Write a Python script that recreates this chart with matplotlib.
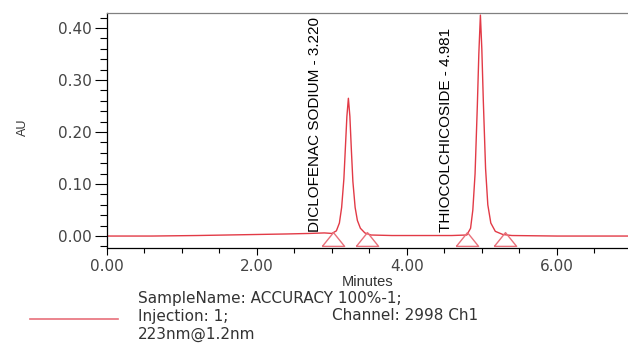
import matplotlib
matplotlib.use("Agg")
import matplotlib.pyplot as plt
from matplotlib.ticker import MultipleLocator, FormatStrFormatter

# ---------------------------------------------------------------------------
# Chromatogram trace (minutes, AU)
# ---------------------------------------------------------------------------
times = [0.00, 0.60, 1.20, 1.60, 2.00, 2.40, 2.70, 2.90, 3.00,
         3.06, 3.10, 3.13, 3.16, 3.18, 3.20, 3.22, 3.24, 3.26, 3.28,
         3.31, 3.34, 3.38, 3.44, 3.52, 3.80, 4.20, 4.60, 4.80,
         4.85, 4.88, 4.91, 4.94, 4.96, 4.981, 5.00, 5.02, 5.05, 5.08,
         5.12, 5.18, 5.28, 5.40, 6.00, 6.95]
au = [0.000, 0.000, 0.001, 0.002, 0.003, 0.004, 0.005, 0.006, 0.005,
      0.010, 0.025, 0.055, 0.110, 0.170, 0.230, 0.265, 0.230, 0.165, 0.105,
      0.055, 0.030, 0.015, 0.006, 0.002, 0.001, 0.001, 0.001, 0.002,
      0.015, 0.050, 0.120, 0.250, 0.350, 0.425, 0.360, 0.260, 0.130, 0.060,
      0.025, 0.009, 0.003, 0.001, 0.000, 0.000]

# integration markers (start / end of each peak)
marker_times = [3.01, 3.47, 4.80, 5.31]

peak_names = ["DICLOFENAC SODIUM - 3.220", "THIOCOLCHICOSIDE - 4.981"]
peak_label_x = [2.77, 4.52]

x_ticks = [0.0, 2.0, 4.0, 6.0]
y_ticks = [0.00, 0.10, 0.20, 0.30, 0.40]

TRACE = "#e23a46"
PINK = "#e8707a"
ARIAL = ["Liberation Sans", "DejaVu Sans"]

fig = plt.figure(figsize=(6.28, 3.45), dpi=100)
ax = fig.add_axes([107 / 628, (345 - 248) / 345, 1 - 107 / 628, (248 - 13) / 345])

ax.plot(times, au, color=TRACE, lw=1.0)
flat_tri = [(-1.0, -0.62), (1.0, -0.62), (0.0, 0.62), (-1.0, -0.62)]
ax.plot(marker_times, [-0.005] * len(marker_times), linestyle="none", marker=flat_tri,
        markersize=16, markerfacecolor="none", markeredgecolor=PINK, markeredgewidth=1.0)

for name, lx in zip(peak_names, peak_label_x):
    ax.text(lx, 0.007, name, rotation=90, ha="center", va="bottom",
            fontsize=11, family=ARIAL, color="black")

ax.set_xlim(0, 6.95)
ax.set_ylim(-0.023, 0.429)
ax.set_xticks(x_ticks)
ax.set_yticks(y_ticks)
ax.xaxis.set_minor_locator(MultipleLocator(0.5))
ax.yaxis.set_minor_locator(MultipleLocator(0.02))
ax.xaxis.set_major_formatter(FormatStrFormatter("%.2f"))
ax.yaxis.set_major_formatter(FormatStrFormatter("%.2f"))

ax.tick_params(axis="y", which="major", direction="out", length=9, width=0.8,
               pad=2, labelsize=11, labelcolor="#444444")
ax.tick_params(axis="y", which="minor", direction="out", length=5, width=0.8)
ax.tick_params(axis="x", which="major", direction="out", length=5, width=0.8,
               pad=3, labelsize=11, labelcolor="#444444")
ax.tick_params(axis="x", which="minor", direction="out", length=3.5, width=0.8)

ax.spines["right"].set_visible(False)
ax.spines["top"].set_color("#808080")
ax.spines["left"].set_color("black")
ax.spines["bottom"].set_color("black")
for s in ax.spines.values():
    s.set_linewidth(0.9)

ax.set_xlabel("Minutes", fontsize=10.5, family=ARIAL, color="#333333", labelpad=1)
fig.text(23 / 628, 1 - 127 / 345, "AU", rotation=90, ha="center", va="center",
         fontsize=9, family=ARIAL, color="#333333")

# legend block under the axes
fig.add_artist(plt.Line2D([30 / 628, 118 / 628], [1 - 319 / 345] * 2,
                          color=PINK, lw=1.2))
legend_lines = [
    (138, 298, "SampleName: ACCURACY 100%-1;"),
    (138, 316, "Injection: 1;"),
    (332, 316, "Channel: 2998 Ch1"),
    (138, 334, "223nm@1.2nm"),
]
for px, py, txt in legend_lines:
    fig.text(px / 628, 1 - py / 345, txt, ha="left", va="center",
             fontsize=11, color="#333333")

fig.savefig("out.png", dpi=100)
